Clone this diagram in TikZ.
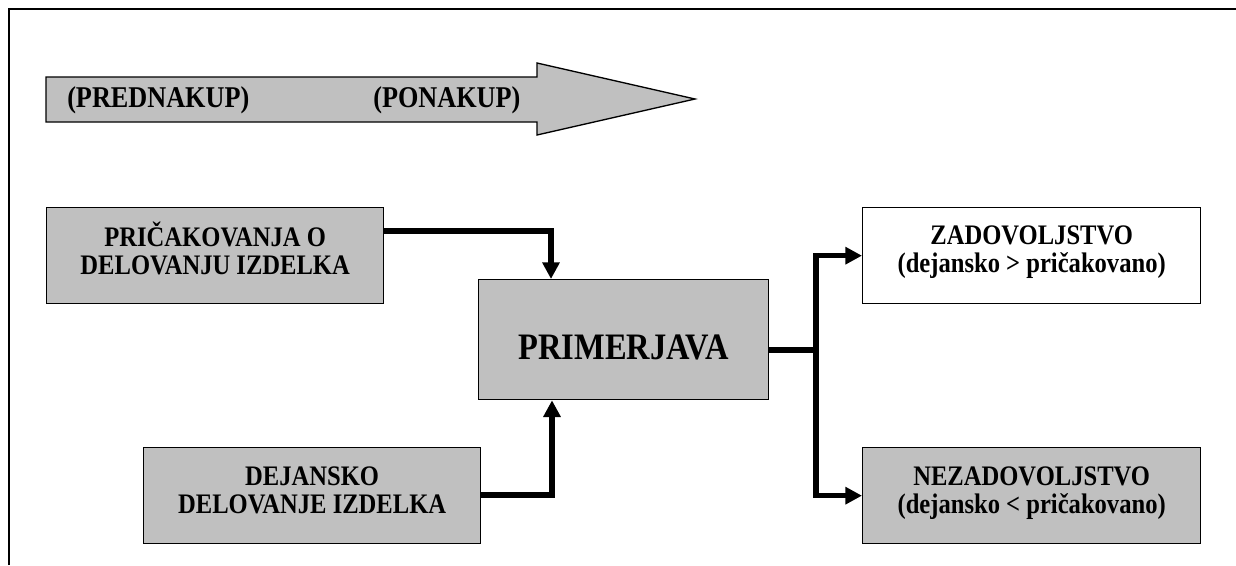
\documentclass[tikz,border=0pt]{standalone}
\usepackage{fontspec}
\setmainfont{Liberation Serif}
\newfontfamily\narrowserif[FakeStretch=0.87]{Liberation Serif}
\usetikzlibrary{arrows.meta,calc}
\definecolor{boxgray}{HTML}{C0C0C0}
\begin{document}
\begin{tikzpicture}[x=0.75pt,y=-0.75pt,
  box/.style={draw=black,line width=1pt,inner sep=0pt,anchor=north west},
  grey/.style={box,fill=boxgray},
  lbl/.style={font=\narrowserif\fontsize{21.2}{21}\selectfont\bfseries,align=center,inner sep=0pt},
  phase/.style={lbl,anchor=west,font=\narrowserif\fontsize{22.6}{23}\selectfont\bfseries},
  conn/.style={line width=3.8pt,line join=miter,-{Triangle[length=12.5pt,width=12.5pt]}},
  trunk/.style={line width=3.8pt,line join=miter}]
\useasboundingbox (0,0) rectangle (1236,565);

% partial frame
\draw[line width=1.6pt] (9,565) -- (9,9) -- (1236,9);

% timeline arrow
\draw[fill=boxgray,line width=1pt,line join=miter]
  (46,77) -- (537,77) -- (537,63) -- (695,99) -- (537,135) -- (537,122) -- (46,122) -- cycle;
\node[phase] (pre) at (67,100) {(PREDNAKUP)};
\node[phase] (post) at (373,100) {(PONAKUP)};

% boxes
\node[grey,minimum width=252.75pt,minimum height=72pt] (exp) at (46,207) {};
\node[grey,minimum width=217.5pt,minimum height=90pt] (cmp) at (478,279) {};
\node[grey,minimum width=252.75pt,minimum height=72pt] (act) at (143,447) {};
\node[box,fill=white,minimum width=253.5pt,minimum height=72pt] (sat) at (862,207) {};
\node[grey,minimum width=253.5pt,minimum height=72pt] (dis) at (862,447) {};

% box texts
\node[lbl] (expt) at ($(exp.center)+(0,-7)$) {PRIČAKOVANJA O\\DELOVANJU IZDELKA};
\node[lbl,font=\narrowserif\fontsize{28}{30}\selectfont\bfseries] (cmpt) at ($(cmp.center)+(0,8)$) {PRIMERJAVA};
\node[lbl] (actt) at ($(act.center)+(0,-5)$) {DEJANSKO\\DELOVANJE IZDELKA};
\node[lbl] (satt) at ($(sat.center)+(0,-4)$) {ZADOVOLJSTVO\\(dejansko > pričakovano)};
\node[lbl] (dist) at ($(dis.center)+(0,-3)$) {NEZADOVOLJSTVO\\(dejansko < pričakovano)};

% connectors
\coordinate (k1) at (551,231);
\draw[conn] (exp.east |- k1) -- (k1) -- (k1 |- cmp.north);
\coordinate (k2) at (552,495);
\draw[conn] (act.east |- k2) -- (k2) -- (k2 |- cmp.south);
\coordinate (split) at (816,350);
\draw[trunk] (cmp.east |- split) -- (split);
\draw[conn] (split) |- (sat.west);
\draw[conn] (split) |- (dis.west);
\end{tikzpicture}
\end{document}
